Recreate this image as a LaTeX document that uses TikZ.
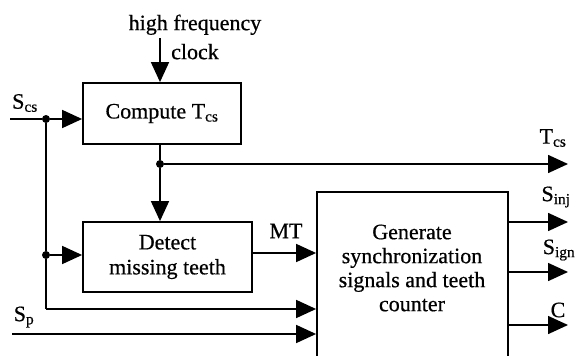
\documentclass[tikz,border=0pt]{standalone}
\usepackage{fontspec}
\setmainfont{Liberation Serif}[FakeBold=0.6]
\usetikzlibrary{arrows.meta}
\begin{document}
\begin{tikzpicture}[x=1pt,y=-1pt,
  block/.style={draw, line width=1.8pt, inner sep=0pt, align=center,
    font=\fontsize{22}{25}\selectfont},
  sig/.style={line width=1.6pt, -{Triangle[length=20pt,width=18pt]}},
  wire/.style={line width=1.6pt},
  dot/.style={circle, fill, inner sep=0pt, minimum size=8pt},
  lbl/.style={inner sep=0pt, align=center, font=\fontsize{22}{24}\selectfont}]
\clip (0,0) rectangle (579,356);

% processing blocks
\node[block, minimum width=158pt, minimum height=61pt] (compute) at (162,113.5)
  {Compute T\textsubscript{cs}};
\node[block, minimum width=169pt, minimum height=70pt] (detect) at (167.5,257)
  {Detect\\missing teeth};
\node[block, minimum width=191pt, minimum height=178pt] (gen) at (412.5,281) {};
\node[lbl] (gentext) at (412,268)
  {Generate\\synchronization\\signals and teeth\\counter};

% clock input
\node[lbl, font=\fontsize{22}{29}\selectfont] (clktext) at (195,37) {high frequency\\\hspace*{0pt}clock};
\coordinate (clk) at (160,38);
\draw[sig] (clk) -- (clk |- compute.north);

% S_cs input and its branches
\coordinate (scsin) at (10,119);
\node[dot] (d1) at (46,119) {};
\node[dot] (d2) at (46,255) {};
\coordinate (corner) at (46,309);
\node[lbl] (scs) at (25,103) {S\textsubscript{cs}};
\draw[wire] (scsin) -- (d1);
\draw[sig] (d1) -- (d1 -| compute.west);
\draw[wire] (d1) -- (d2) -- (corner);
\draw[sig] (d2) -- (d2 -| detect.west);
\draw[sig] (corner) -- (corner -| gen.west);

% T_cs output
\node[dot] (d3) at (160,164) {};
\coordinate (tcsout) at (568,164);
\draw[wire] (compute.south -| d3) -- (d3);
\draw[sig] (d3) -- (d3 |- detect.north);
\draw[sig] (d3) -- (tcsout);
\node[lbl] (tcs) at (553,138) {T\textsubscript{cs}};

% missing tooth signal
\coordinate (mt) at (285,253);
\draw[sig] (detect.east |- mt) -- (mt -| gen.west);
\node[lbl] (mtl) at (286,231) {MT};

% S_p input
\coordinate (spin) at (12,334);
\draw[sig] (spin) -- (spin -| gen.west);
\node[lbl] (sp) at (24,317) {S\textsubscript{p}};

% outputs
\coordinate (sinj) at (568,222);
\coordinate (sign) at (568,272);
\coordinate (cout) at (568,325);
\draw[sig] (gen.east |- sinj) -- (sinj);
\draw[sig] (gen.east |- sign) -- (sign);
\draw[sig] (gen.east |- cout) -- (cout);
\node[lbl] (sinjl) at (556,197) {S\textsubscript{inj}};
\node[lbl] (signl) at (559,250) {S\textsubscript{ign}};
\node[lbl] (cl) at (558,310) {C};
\end{tikzpicture}
\end{document}
